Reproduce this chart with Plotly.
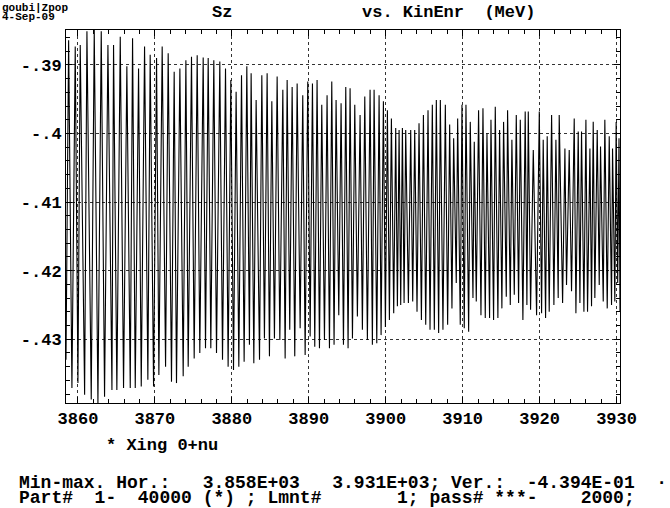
import plotly.graph_objects as go

# ---- data (KinEnr in MeV, Sz) ----
peak_kinenr = [
    3858.79, 3859.65, 3860.30, 3861.17, 3862.12, 3863.03, 3863.90, 3864.63, 3865.50, 3866.36, 3867.10, 3867.88, 3868.66, 3869.39,
    3870.22, 3870.95, 3871.73, 3872.51, 3873.25, 3874.03, 3874.76, 3875.50, 3876.28, 3876.93, 3877.66, 3878.44, 3879.18, 3879.87, 3880.56, 3881.26, 3881.95,
    3882.51, 3883.16, 3883.90, 3884.59, 3885.20, 3885.89, 3886.63, 3887.19, 3887.84, 3888.49, 3889.22, 3889.87, 3890.48, 3891.08, 3891.69, 3892.38, 3892.99, 3893.55, 3894.20,
    3894.81, 3895.37, 3895.98, 3896.67, 3897.28, 3897.97, 3898.49, 3899.14, 3899.70, 3900.22, 3900.74, 3901.30, 3901.74, 3902.17, 3902.60, 3903.25, 3903.77, 3904.33, 3904.90, 3905.50, 3906.06,
    3906.58, 3907.10, 3907.75, 3908.31, 3908.83, 3909.35, 3909.91, 3910.43, 3910.99, 3911.51, 3912.07, 3912.64, 3913.16, 3913.68, 3914.24, 3914.80, 3915.32, 3915.84, 3916.40, 3916.97, 3917.49, 3918.13,
    3918.53, 3919.18, 3919.96, 3920.47, 3920.99, 3921.56, 3922.12, 3922.55, 3923.29, 3923.85, 3924.50, 3925.02, 3925.45, 3926.02, 3926.54, 3926.97, 3927.49, 3927.92, 3928.48, 3929.05, 3929.48, 3929.95, 3930.32,
]
peak_sz = [
    -0.3864, -0.3873, -0.3871, -0.3851, -0.3849, -0.3851, -0.3871, -0.3871, -0.3859, -0.3902, -0.3861, -0.3905, -0.3873, -0.3885,
    -0.3890, -0.3873, -0.3883, -0.3910, -0.3905, -0.3893, -0.3888, -0.3886, -0.3889, -0.3890, -0.3893, -0.3895, -0.3905, -0.3922, -0.3939, -0.3915, -0.3902,
    -0.3912, -0.3951, -0.3915, -0.3912, -0.3953, -0.3917, -0.3936, -0.3922, -0.3932, -0.3927, -0.3944, -0.3924, -0.3927, -0.3922, -0.3958, -0.3944, -0.3924, -0.3951, -0.3956,
    -0.3932, -0.3934, -0.3958, -0.3973, -0.3946, -0.3936, -0.3936, -0.3944, -0.3953, -0.3966, -0.3978, -0.3992, -0.3995, -0.3992, -0.3995, -0.3995, -0.3995, -0.3985, -0.3973, -0.3966, -0.3958,
    -0.3951, -0.3951, -0.3958, -0.3987, -0.4007, -0.3978, -0.3958, -0.3958, -0.3983, -0.4012, -0.3966, -0.3963, -0.4000, -0.3980, -0.3961, -0.3995, -0.3983, -0.3966, -0.4009, -0.3973, -0.3980, -0.3968,
    -0.3968, -0.4024, -0.3968, -0.4009, -0.4004, -0.3973, -0.4009, -0.3973, -0.4022, -0.4024, -0.3978, -0.3997, -0.3997, -0.3980, -0.4022, -0.3983, -0.3995, -0.4019, -0.3980, -0.4004, -0.4022, -0.3983, -0.4007,
]
trough_kinenr = [
    3858.45, 3859.22, 3860.00, 3860.87, 3861.73, 3862.60, 3863.46, 3864.42, 3865.06, 3865.93, 3866.80, 3867.45, 3868.23, 3869.09, 3869.83,
    3870.52, 3871.39, 3872.16, 3872.81, 3873.68, 3874.33, 3875.11, 3875.84, 3876.58, 3877.27, 3878.01, 3878.79, 3879.52, 3880.22, 3880.91, 3881.60, 3882.29,
    3882.86, 3883.60, 3884.24, 3884.89, 3885.54, 3886.24, 3886.93, 3887.53, 3888.18, 3888.88, 3889.53, 3890.18, 3890.78, 3891.39, 3892.04, 3892.69, 3893.29, 3893.90,
    3894.51, 3895.11, 3895.68, 3896.32, 3896.97, 3897.62, 3898.27, 3898.84, 3899.40, 3899.96, 3900.48, 3901.04, 3901.52, 3901.95, 3902.39, 3902.95, 3903.51, 3904.07, 3904.64, 3905.20, 3905.76,
    3906.32, 3906.88, 3907.44, 3908.05, 3908.61, 3909.17, 3909.69, 3910.21, 3910.78, 3911.34, 3911.77, 3912.38, 3912.94, 3913.50, 3914.02, 3914.58, 3915.10, 3915.67, 3916.19, 3916.71, 3917.27, 3917.83, 3918.35,
    3918.83, 3919.61, 3920.26, 3920.78, 3921.25, 3921.86, 3922.42, 3922.99, 3923.50, 3924.15, 3924.72, 3925.24, 3925.76, 3926.23, 3926.75, 3927.18, 3927.75, 3928.27, 3928.79, 3929.35, 3929.78, 3930.15, 3930.45,
]
trough_sz = [
    -0.4330, -0.4371, -0.4364, -0.4381, -0.4388, -0.4393, -0.4384, -0.4374, -0.4374, -0.4371, -0.4371, -0.4371, -0.4369, -0.4359, -0.4369,
    -0.4352, -0.4340, -0.4362, -0.4364, -0.4354, -0.4340, -0.4328, -0.4320, -0.4313, -0.4313, -0.4320, -0.4330, -0.4340, -0.4345, -0.4340, -0.4333, -0.4308,
    -0.4335, -0.4330, -0.4299, -0.4325, -0.4299, -0.4301, -0.4328, -0.4286, -0.4325, -0.4284, -0.4323, -0.4296, -0.4311, -0.4313, -0.4301, -0.4313, -0.4308, -0.4265,
    -0.4308, -0.4313, -0.4299, -0.4267, -0.4286, -0.4301, -0.4308, -0.4306, -0.4294, -0.4282, -0.4272, -0.4262, -0.4252, -0.4250, -0.4247, -0.4247, -0.4245, -0.4260, -0.4272, -0.4279, -0.4286,
    -0.4286, -0.4291, -0.4286, -0.4279, -0.4255, -0.4218, -0.4279, -0.4284, -0.4289, -0.4240, -0.4245, -0.4265, -0.4269, -0.4269, -0.4272, -0.4269, -0.4255, -0.4238, -0.4250, -0.4235, -0.4247, -0.4272, -0.4250,
    -0.4257, -0.4265, -0.4262, -0.4269, -0.4260, -0.4250, -0.4240, -0.4247, -0.4221, -0.4230, -0.4262, -0.4247, -0.4260, -0.4260, -0.4252, -0.4240, -0.4221, -0.4245, -0.4255, -0.4250, -0.4245, -0.4218, -0.4260,
]

y_tick_values = [-0.39, -0.40, -0.41, -0.42, -0.43]
y_tick_labels = ["-.39", "-.4", "-.41", "-.42", "-.43"]

# ---- build the curve ----
pts = sorted(zip(peak_kinenr + trough_kinenr, peak_sz + trough_sz))
kin = [p[0] for p in pts]
sz = [p[1] for p in pts]

W, H = 670, 508
L, R, T, B = 66, 50, 30, 105
PW, PH = W - L - R, H - T - B
FONT = "Liberation Mono"


def px(xp):
    return (xp - L) / PW


def py(yp):
    return (H - B - yp) / PH


fig = go.Figure(go.Scatter(x=kin, y=sz, mode="lines",
                           line=dict(color="black", width=1.1),
                           hoverinfo="skip"))

fig.update_layout(
    width=W, height=H, margin=dict(l=L, r=R, t=T, b=B, autoexpand=False),
    paper_bgcolor="white", plot_bgcolor="white", showlegend=False,
)

axis_common = dict(
    ticks="inside", ticklen=6, tickcolor="black", tickwidth=1,
    showline=True, linecolor="black", linewidth=1, mirror="allticks",
    showgrid=True, gridcolor="#333333", griddash="dot", gridwidth=1,
    zeroline=False, automargin=False,
    tickfont=dict(family=FONT, size=17, color="black", weight="bold"),
)

fig.update_xaxes(range=[3858.45, 3930.45], tickmode="linear", tick0=3860, dtick=10,
                 minor=dict(ticks="inside", dtick=2, tick0=3860, ticklen=4,
                            tickcolor="black", showgrid=False),
                 **axis_common)
fig.update_yaxes(range=[-0.4393, -0.3849], tickmode="array",
                 tickvals=y_tick_values, ticktext=y_tick_labels,
                 minor=dict(ticks="inside", dtick=0.002, tick0=-0.44, ticklen=4,
                            tickcolor="black", showgrid=False),
                 **axis_common)


def note(text, xp, yp, size=17, anchor="left"):
    fig.add_annotation(text=text, x=px(xp), y=py(yp), xref="paper", yref="paper",
                       xanchor=anchor, yanchor="middle", showarrow=False,
                       font=dict(family=FONT, size=size, color="black", weight="bold"))


note("goubi|Zpop", 0, 8, size=11)
note("4-Sep-09", 0, 17, size=11)
note("Sz", 210, 13)
note("vs. KinEnr  (MeV)", 360, 13)
note("* Xing 0+nu", 104, 445)
note("Min-max. Hor.:   3.858E+03   3.931E+03; Ver.:  -4.394E-01  ·", 17, 483, size=18)
note("Part#  1-  40000 (*) ; Lmnt#       1; pass# ***-    2000;", 17, 498, size=18)

fig.write_html("out.html",
               config={"displayModeBar": False, "staticPlot": True},
               post_script="document.body.style.margin='0';document.body.style.overflow='hidden';")
